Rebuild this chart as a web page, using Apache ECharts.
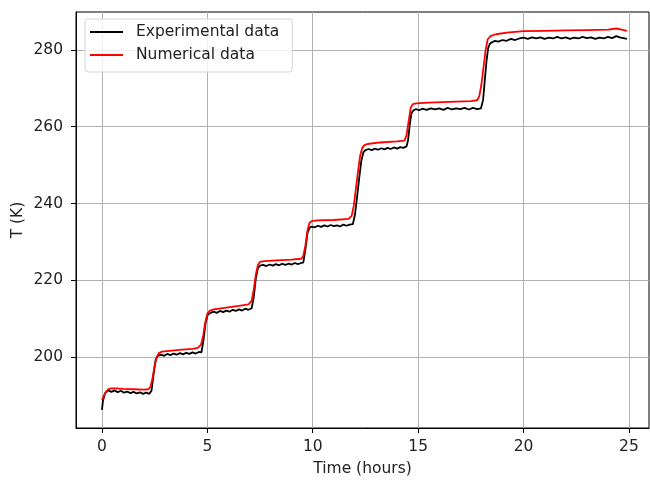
<!DOCTYPE html>
<html>
<head>
<meta charset="utf-8">
<script src="https://cdn.jsdelivr.net/npm/echarts@6/dist/echarts.min.js"></script>
<style>
  html, body { margin: 0; padding: 0; background: #fff; }
  #chart { width: 650px; height: 480px; }
</style>
</head>
<body>
<div id="chart"></div>
<script>
// experimental measurements (black, noisy)
var expHours = [
  0, 0.05, 0.15, 0.3, 0.45, 0.6, 0.75, 0.9, 1.05, 1.2, 1.35, 1.5, 1.65, 1.8, 1.95, 2.1, 2.25,
  2.35, 2.45, 2.55, 2.65, 2.8, 2.95, 3.1, 3.25, 3.4, 3.55, 3.7, 3.85, 4.0, 4.15, 4.3, 4.45, 4.6, 4.72,
  4.82, 4.92, 5.02, 5.15, 5.3, 5.45, 5.6, 5.75, 5.9, 6.05, 6.2, 6.35, 6.5, 6.65, 6.8, 6.95, 7.1,
  7.2, 7.3, 7.4, 7.5, 7.65, 7.8, 7.95, 8.1, 8.25, 8.4, 8.55, 8.7, 8.85, 9.0, 9.15, 9.3, 9.45, 9.55,
  9.65, 9.75, 9.85, 9.95, 10.1, 10.25, 10.4, 10.55, 10.7, 10.85, 11.0, 11.15, 11.3, 11.45, 11.6, 11.75, 11.9,
  12.0, 12.1, 12.2, 12.3, 12.4, 12.5, 12.65, 12.8, 12.95, 13.1, 13.25, 13.4, 13.55, 13.7, 13.85, 14.0, 14.15, 14.3, 14.45,
  14.52, 14.6, 14.68, 14.78, 14.9, 15.05, 15.2, 15.4, 15.6, 15.8, 16.0, 16.2, 16.4, 16.6, 16.8, 17.0, 17.2, 17.4, 17.6, 17.8, 17.98,
  18.08, 18.16, 18.24, 18.32, 18.4, 18.5, 18.65, 18.8, 19.0, 19.2, 19.4, 19.6, 19.8, 20.0, 20.2, 20.4, 20.6, 20.8, 21.0, 21.2,
  21.4, 21.6, 21.8, 22.0, 22.2, 22.4, 22.6, 22.8, 23.0, 23.2, 23.4, 23.6, 23.8, 24.0, 24.2, 24.4, 24.6, 24.8, 24.9
];
var expTemp = [
  186.2, 188.6, 190.6, 191.3, 190.9, 191.3, 190.8, 191.2, 190.7, 191.0, 190.6, 190.9, 190.5, 190.8, 190.4, 190.7, 190.4,
  191.2, 195.5, 199.3, 200.3, 200.6, 200.3, 200.8, 200.5, 200.9, 200.6, 201.0, 200.7, 201.1, 200.8, 201.2, 200.9, 201.3, 201.2,
  204.5, 209.0, 211.0, 211.5, 211.8, 211.5, 212.0, 211.7, 212.1, 211.8, 212.3, 212.0, 212.4, 212.1, 212.6, 212.3, 212.7,
  215.5, 220.5, 223.2, 223.8, 224.0, 223.7, 224.1, 223.8, 224.2, 223.9, 224.3, 224.0, 224.3, 224.1, 224.5, 224.2, 224.5, 224.6,
  228.0, 232.3, 233.7, 234.0, 233.8, 234.2, 233.9, 234.3, 234.0, 234.4, 234.1, 234.3, 234.0, 234.5, 234.2, 234.5, 234.6,
  237.0, 241.5, 246.5, 251.0, 253.3, 253.9, 254.2, 253.9, 254.3, 254.0, 254.4, 254.1, 254.5, 254.2, 254.6, 254.3, 254.7, 254.5, 254.9,
  256.5, 260.5, 263.5, 264.3, 264.6, 264.3, 264.7, 264.4, 264.8, 264.5, 264.8, 264.4, 264.9, 264.5, 264.8, 264.6, 264.9, 264.5, 264.9, 264.6, 264.8,
  267.0, 272.0, 277.0, 280.5, 281.6, 282.0, 282.4, 282.2, 282.6, 282.4, 282.9, 282.6, 283.0, 283.2, 282.9, 283.3, 283.0, 283.3, 282.9, 283.2,
  283.0, 283.4, 283.0, 283.3, 282.9, 283.2, 283.0, 283.4, 283.1, 283.3, 282.9, 283.2, 283.0, 283.4, 283.1, 283.6, 283.2, 283.0, 282.9
];

// numerical model (red, smooth)
var numHours = [
  0, 0.1, 0.2, 0.3, 0.45, 0.7, 1.0, 1.5, 2.0, 2.2, 2.3, 2.4, 2.5, 2.6, 2.7, 2.85, 3.2, 3.8, 4.3, 4.55,
  4.7, 4.8, 4.9, 5.0, 5.1, 5.3, 5.8, 6.5, 6.95, 7.1, 7.2, 7.3, 7.4, 7.5, 7.7, 8.3, 9.0, 9.45, 9.55, 9.65,
  9.75, 9.85, 9.95, 10.2, 11.0, 11.7, 11.85, 11.95, 12.05, 12.15, 12.25, 12.35, 12.45, 12.6, 13.2, 14.0, 14.35, 14.45, 14.55, 14.65,
  14.75, 14.9, 15.5, 16.5, 17.5, 17.8, 17.9, 18.0, 18.1, 18.2, 18.3, 18.45, 18.7, 19.2, 20.0, 21.0, 22.0, 23.0, 24.0, 24.4,
  24.6, 24.9
];
var numTemp = [
  188.8, 190.0, 191.0, 191.6, 191.8, 191.8, 191.7, 191.6, 191.5, 191.6, 192.2, 194.5, 197.8, 200.0, 201.0, 201.4, 201.6, 201.9, 202.1, 202.4,
  203.2, 205.5, 209.0, 211.3, 212.0, 212.4, 212.8, 213.3, 213.7, 214.6, 217.5, 221.5, 224.0, 224.8, 225.0, 225.2, 225.4, 225.6, 226.3, 229.0,
  233.0, 235.0, 235.4, 235.6, 235.7, 236.0, 236.8, 239.5, 244.0, 248.5, 252.5, 254.5, 255.2, 255.5, 255.9, 256.2, 256.4, 257.8, 261.5, 265.0,
  265.9, 266.1, 266.3, 266.5, 266.7, 266.9, 268.0, 271.0, 275.5, 280.0, 282.8, 283.7, 284.1, 284.5, 284.9, 285.0, 285.1, 285.2, 285.3, 285.6,
  285.4, 285.0
];

var xTicks = [0, 5, 10, 15, 20, 25];
var yTicks = [200, 220, 240, 260, 280];

function pairs(xs, ys) {
  var out = [];
  for (var i = 0; i < Math.min(xs.length, ys.length); i++) out.push([xs[i], ys[i]]);
  return out;
}

var myChart = echarts.init(document.getElementById('chart'));
var font = 'DejaVu Sans';
var fs = 15.5;

var option = {
  animation: false,
  textStyle: { fontFamily: font },
  grid: {
    left: 76, right: 1, top: 12, bottom: 52,
    outerBoundsMode: 'none',
    show: true, borderColor: '#000', borderWidth: 1, backgroundColor: 'transparent'
  },
  legend: {
    orient: 'vertical',
    left: 85, top: 19,
    padding: [5, 13, 9, 5],
    itemGap: 7,
    itemWidth: 33, itemHeight: 2,
    icon: 'rect',
    borderColor: '#d4d4d4', borderWidth: 1, borderRadius: 3,
    backgroundColor: 'rgba(255,255,255,0.8)',
    textStyle: { fontFamily: font, fontSize: fs, color: '#222', lineHeight: 10, padding: [0, 0, 0, 8] },
    data: ['Experimental data', 'Numerical data']
  },
  xAxis: {
    type: 'value',
    min: -1.23, max: 25.95,
    name: 'Time (hours)',
    nameLocation: 'middle',
    nameGap: 33,
    nameMoveOverlap: false,
    nameTextStyle: { fontFamily: font, fontSize: fs, color: '#222' },
    axisLine: { show: true, onZero: false, lineStyle: { color: '#000', width: 1 } },
    axisTick: { show: true, inside: false, length: 5, customValues: xTicks, lineStyle: { color: '#000' } },
    axisLabel: { customValues: xTicks, fontFamily: font, fontSize: fs, color: '#222', margin: 11 },
    splitLine: { show: true, lineStyle: { color: '#b0b0b0', width: 1 } }
  },
  yAxis: {
    type: 'value',
    min: 181.5, max: 289.9,
    name: 'T (K)',
    nameLocation: 'middle',
    nameGap: 50,
    nameMoveOverlap: false,
    nameTextStyle: { fontFamily: font, fontSize: fs, color: '#222' },
    axisLine: { show: true, onZero: false, lineStyle: { color: '#000', width: 1 } },
    axisTick: { show: true, inside: false, length: 5, customValues: yTicks, lineStyle: { color: '#000' } },
    axisLabel: { customValues: yTicks, fontFamily: font, fontSize: fs, color: '#222', margin: 13 },
    splitLine: { show: true, lineStyle: { color: '#b0b0b0', width: 1 } }
  },
  series: [
    {
      name: 'Experimental data',
      type: 'line',
      symbol: 'none',
      color: '#000',
      lineStyle: { color: '#000', width: 1.8 },
      data: pairs(expHours, expTemp)
    },
    {
      name: 'Numerical data',
      type: 'line',
      symbol: 'none',
      color: '#ff0000',
      lineStyle: { color: '#ff0000', width: 1.8 },
      data: pairs(numHours, numTemp)
    }
  ]
};
myChart.setOption(option);
</script>
</body>
</html>
